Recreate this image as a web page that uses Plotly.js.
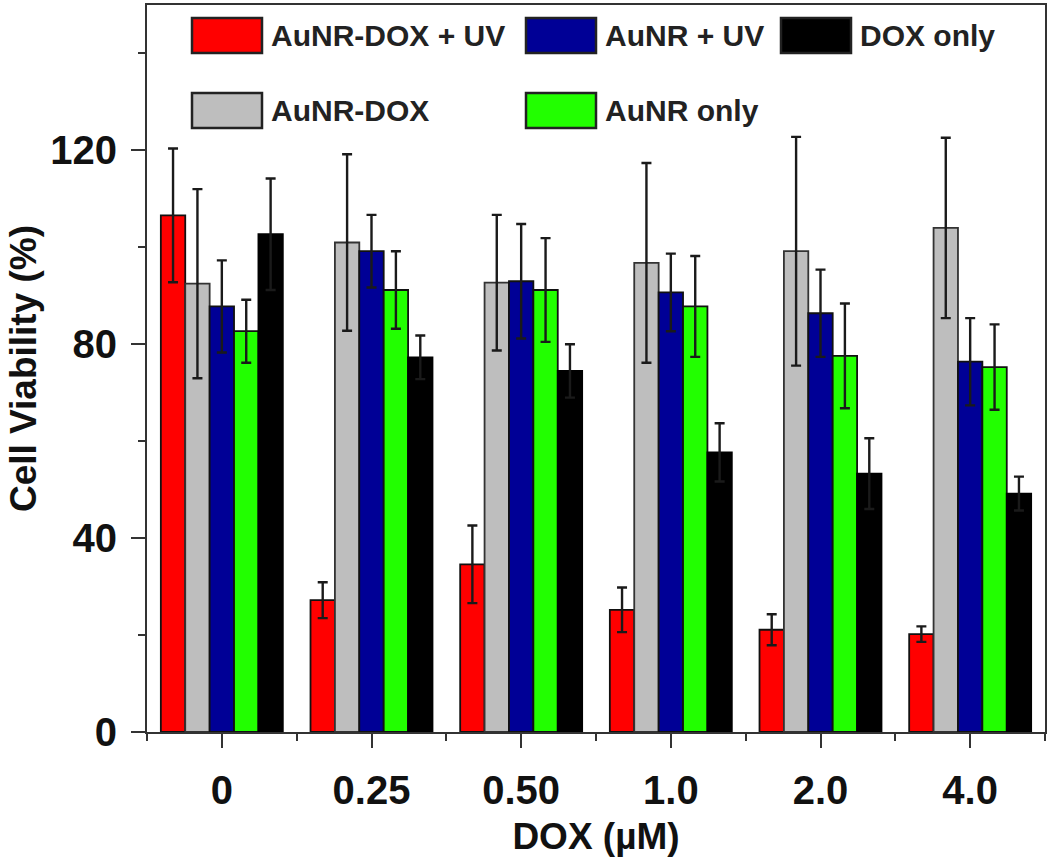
<!DOCTYPE html>
<html>
<head>
<meta charset="utf-8">
<script src="https://cdn.plot.ly/plotly-3.0.1.min.js"></script>
<style>html,body{margin:0;padding:0;background:#fff;}#chart{width:1050px;height:865px;}</style>
</head>
<body>
<div id="chart"></div>
<script>
// ---- data ----
const categories = ['0', '0.25', '0.50', '1.0', '2.0', '4.0'];
const seriesNames = ['AuNR-DOX + UV', 'AuNR-DOX', 'AuNR + UV', 'AuNR only', 'DOX only'];
const auNRDoxUV    = [106.6, 27.2, 34.6, 25.2, 21.1, 20.2];
const auNRDoxUVErr = [13.8, 3.7, 8.0, 4.6, 3.2, 1.6];
const auNRDox      = [92.5, 101.0, 92.7, 96.8, 99.2, 104.0];
const auNRDoxErr   = [19.5, 18.2, 14.0, 20.6, 23.6, 18.6];
const auNRUV       = [87.8, 99.2, 93.0, 90.7, 86.4, 76.4];
const auNRUVErr    = [9.5, 7.5, 11.8, 8.0, 9.0, 9.0];
const auNROnly     = [82.7, 91.2, 91.2, 87.8, 77.6, 75.3];
const auNROnlyErr  = [6.5, 8.0, 10.7, 10.4, 10.8, 8.8];
const doxOnly      = [102.7, 77.3, 74.5, 57.7, 53.3, 49.2];
const doxOnlyErr   = [11.5, 4.5, 5.5, 6.0, 7.3, 3.5];
const yTickVals = [0, 40, 80, 120];
const xTitle = 'DOX (µM)';
const yTitle = 'Cell Viability (%)';

// ---- styles ----
const colors = ['#FF0000', '#BEBEBE', '#000096', '#22FF00', '#000000'];
const outline = ['#111111', '#333333', '#111111', '#111111', '#000000'];
const values = [auNRDoxUV, auNRDox, auNRUV, auNROnly, doxOnly];
const errors = [auNRDoxUVErr, auNRDoxErr, auNRUVErr, auNROnlyErr, doxOnlyErr];
const FONT = 'Liberation Sans, Arial, sans-serif';

const W = 1050, H = 865;
const M = {l: 147, r: 5, t: 5, b: 133};
const PW = W - M.l - M.r, PH = H - M.t - M.b;

const xIdx = categories.map((c, i) => i);

const traces = values.map((vals, k) => ({
  type: 'bar',
  name: seriesNames[k],
  x: xIdx,
  y: vals,
  showlegend: false,
  marker: {color: colors[k], line: {color: outline[k], width: 1.8}},
  error_y: {type: 'data', array: errors[k], visible: true, color: '#1a1a1a', thickness: 2.4, width: 5}
}));

// custom legend (large swatches), placed in pixel slots
const legendOrder = [0, 2, 4, 1, 3];
const slotX = [192, 526, 781, 192, 526];
const slotY = [18, 18, 18, 93, 93];
const swW = 70, swH = 35;
const px = x => (x - M.l) / PW;
const py = y => (H - M.b - y) / PH;
const shapes = [];
const annotations = [];
legendOrder.forEach((k, s) => {
  shapes.push({
    type: 'rect', xref: 'paper', yref: 'paper',
    x0: px(slotX[s]), x1: px(slotX[s] + swW),
    y0: py(slotY[s] + swH), y1: py(slotY[s]),
    fillcolor: colors[k], line: {color: '#222', width: 2.5}
  });
  annotations.push({
    xref: 'paper', yref: 'paper', x: px(slotX[s] + swW + 7), y: py(slotY[s] + swH / 2),
    xanchor: 'left', yanchor: 'middle', showarrow: false, text: seriesNames[k],
    font: {family: FONT, size: 30, weight: 'bold', color: '#222'}
  });
});

const layout = {
  width: W, height: H,
  margin: M,
  paper_bgcolor: '#fff', plot_bgcolor: '#fff',
  barmode: 'group', bargap: 0.185, bargroupgap: 0,
  showlegend: false,
  xaxis: {
    type: 'linear', range: [-0.5, 5.5],
    tickvals: xIdx, ticktext: categories,
    ticks: 'outside', ticklen: 14, tickwidth: 2, tickcolor: '#333',
    minor: {tick0: 0.5, dtick: 1, ticks: 'outside', ticklen: 7, tickwidth: 2, tickcolor: '#333'},
    showline: true, linecolor: '#333', linewidth: 2, mirror: true,
    showgrid: false, zeroline: false,
    tickfont: {family: FONT, size: 40, weight: 'bold', color: '#111'},
    ticklabelstandoff: 8,
    title: {text: xTitle, font: {family: FONT, size: 37, weight: 'bold', color: '#111'}, standoff: 12}
  },
  yaxis: {
    range: [0, 150], tickvals: yTickVals,
    ticks: 'outside', ticklen: 14, tickwidth: 2, tickcolor: '#333',
    minor: {tick0: 0, dtick: 20, ticks: 'outside', ticklen: 7, tickwidth: 2, tickcolor: '#333'},
    showline: true, linecolor: '#333', linewidth: 2, mirror: true,
    showgrid: false, zeroline: false,
    tickfont: {family: FONT, size: 40, weight: 'bold', color: '#111'},
    ticklabelstandoff: 6,
    title: {text: yTitle, font: {family: FONT, size: 37, weight: 'bold', color: '#111'}, standoff: 2}
  },
  shapes: shapes,
  annotations: annotations
};

Plotly.newPlot('chart', traces, layout, {displayModeBar: false, staticPlot: true});
</script>
</body>
</html>
